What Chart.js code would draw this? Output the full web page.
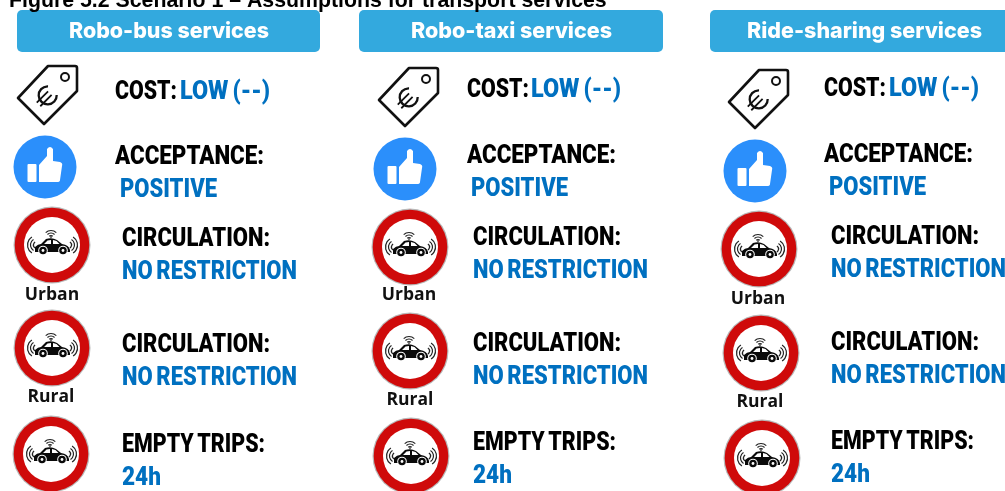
<!DOCTYPE html>
<html>
<head>
<meta charset="utf-8">
<title>Scenario 1 assumptions</title>
<script src="https://cdn.jsdelivr.net/npm/chart.js@4/dist/chart.umd.js"></script>
<style>
  html, body { margin: 0; padding: 0; background: #fff; overflow: hidden; }
  canvas { display: block; }
</style>
</head>
<body>
<canvas id="chart" width="1005" height="491"></canvas>
<script>
// ================== CONTENT ==================
const titleText = 'Figure 5.2 Scenario 1 – Assumptions for transport services';
const serviceNames = ['Robo-bus services', 'Robo-taxi services', 'Ride-sharing services'];
const signNames = ['Urban', 'Rural'];
const headLines = ['COST:', 'ACCEPTANCE:', 'CIRCULATION:', 'CIRCULATION:', 'EMPTY TRIPS:'];
const valueLines = ['LOW (--)', 'POSITIVE', 'NO RESTRICTION', 'NO RESTRICTION', '24h'];

// ================== ICON ANCHORS (one entry per column) ==================
const tagX = [47, 408, 758];
const tagY = [95, 97, 99];
const thumbX = [45, 405, 755];
const thumbY = [167, 169, 171];
const signX = [[52, 52, 51], [410, 410, 411], [759, 761, 762]];
const signY = [[245, 348, 454], [247, 351, 456], [249, 353, 458]];

// ================== TEXT ANCHORS ==================
const headerLeft = [17, 359, 710];
const headerRight = [320, 663, 1010];
const headerTop = [10, 10, 10];
const headerBottom = [52, 52, 52];
const headerTextX = [169, 511.5, 864.5];
const headerTextWidth = [200, 201, 235];
const signNameX = [[52, 51], [409, 410], [758, 760]];
const signNameY = [[300, 402], [300, 405], [304, 407]];
const costX = [115, 467, 824];
const costValueX = [180, 531, 889];
const acceptX = [115, 467, 824];
const positiveX = [120, 471, 829];
const lineX = [122, 473, 831];
const headBase = [[99, 164, 246, 352, 452], [97, 163, 245, 351, 450], [96, 162, 244, 350, 449]];
const valueBase = [[99, 197, 279, 385, 485], [97, 196, 278, 384, 483], [96, 195, 277, 383, 482]];
const headWidth = [62, 149, 148, 148, 143];
const valueWidth = [90, 97, 175, 175, 39];

const BLUE_TEXT = '#0070c0';
const HEADER_BLUE = '#33a9de';

// ================== ICON DRAWING ==================
function makeIcon(w, h, draw) {
  const c = document.createElement('canvas');
  c.width = w;
  c.height = h;
  const g = c.getContext('2d');
  g.translate(w / 2, h / 2);
  draw(g);
  return c;
}

const tagIcon = makeIcon(70, 68, g => {
  g.lineWidth = 2.6;
  g.lineJoin = 'round';
  g.strokeStyle = '#111';
  g.beginPath();
  g.moveTo(1, -29);
  g.lineTo(28, -29);
  g.quadraticCurveTo(30, -29, 30, -27);
  g.lineTo(30, -4);
  g.lineTo(-3, 29);
  g.lineTo(-29, 3);
  g.closePath();
  g.stroke();
  g.lineWidth = 2;
  g.beginPath();
  g.arc(18, -18, 4, 0, Math.PI * 2);
  g.stroke();
  // euro sign, turned with the tag
  g.save();
  g.translate(0, 1);
  g.rotate(-Math.PI / 4);
  g.lineWidth = 2.3;
  g.beginPath();
  g.arc(1, 0, 9, 0.75, Math.PI * 2 - 0.75);
  g.stroke();
  g.lineWidth = 1.8;
  g.beginPath();
  g.moveTo(-12, -2.5);
  g.lineTo(4, -2.5);
  g.moveTo(-12, 2.5);
  g.lineTo(4, 2.5);
  g.stroke();
  g.restore();
});

const thumbIcon = makeIcon(66, 66, g => {
  g.fillStyle = '#2b8ffb';
  g.beginPath();
  g.arc(0, 0, 31.5, 0, Math.PI * 2);
  g.fill();
  g.fillStyle = '#fff';
  g.beginPath();
  g.roundRect(-17.5, -3, 9, 18, 1);
  g.fill();
  g.beginPath();
  g.moveTo(-6, -2);
  g.lineTo(2, -11);
  g.lineTo(2, -18);
  g.quadraticCurveTo(5, -22, 8, -18);
  g.lineTo(8, -6);
  g.lineTo(15, -5);
  g.quadraticCurveTo(18, -4, 17, -1);
  g.lineTo(15, 13);
  g.quadraticCurveTo(15, 15, 12, 15);
  g.lineTo(-6, 15);
  g.closePath();
  g.fill();
});

const signIcon = makeIcon(80, 80, g => {
  g.fillStyle = '#b8b8b8';
  g.beginPath();
  g.arc(0, 0, 38.5, 0, Math.PI * 2);
  g.fill();
  g.fillStyle = '#cf0a0a';
  g.beginPath();
  g.arc(0, 0, 37.3, 0, Math.PI * 2);
  g.fill();
  g.fillStyle = '#fff';
  g.beginPath();
  g.arc(0, 0, 28, 0, Math.PI * 2);
  g.fill();
  // car body
  g.fillStyle = '#0a0a0a';
  g.beginPath();
  g.moveTo(-17, 7);
  g.lineTo(-17, 2);
  g.quadraticCurveTo(-14, -1, -11, -1);
  g.lineTo(-6, -6);
  g.quadraticCurveTo(0, -8, 5, -5);
  g.lineTo(10, -1);
  g.quadraticCurveTo(17, 0, 18, 5);
  g.lineTo(18, 7);
  g.closePath();
  g.fill();
  // windows
  g.fillStyle = '#fff';
  g.beginPath();
  g.moveTo(-8, -1);
  g.lineTo(-4.5, -4.5);
  g.lineTo(-1, -5);
  g.lineTo(-1, -1);
  g.closePath();
  g.moveTo(1, -5);
  g.lineTo(4.5, -4);
  g.lineTo(7.5, -1);
  g.lineTo(1, -1);
  g.closePath();
  g.fill();
  // wheels
  [-9, 11].forEach(x => {
    g.fillStyle = '#fff';
    g.beginPath();
    g.arc(x, 5.5, 4.8, 0, Math.PI * 2);
    g.fill();
    g.fillStyle = '#0a0a0a';
    g.beginPath();
    g.arc(x, 5.5, 3.8, 0, Math.PI * 2);
    g.fill();
    g.fillStyle = '#fff';
    g.beginPath();
    g.arc(x, 5.5, 1.4, 0, Math.PI * 2);
    g.fill();
  });
  // antenna and signal arcs
  g.strokeStyle = '#222';
  g.lineWidth = 1.2;
  g.beginPath();
  g.moveTo(-1, -7);
  g.lineTo(-1, -9);
  g.stroke();
  [2.5, 5, 7.5].forEach(r => {
    g.beginPath();
    g.arc(-1, -7, r, -Math.PI * 0.75, -Math.PI * 0.25);
    g.stroke();
  });
  [3.5, 6.5, 9.5].forEach(r => {
    g.beginPath();
    g.arc(-15, 0, r, Math.PI * 0.68, Math.PI * 1.32);
    g.stroke();
    g.beginPath();
    g.arc(16, 0, r, -Math.PI * 0.32, Math.PI * 0.32);
    g.stroke();
  });
});

// ================== TEXT PLUGIN ==================
const panelPlugin = {
  id: 'panelPlugin',
  beforeDatasetsDraw(chart) {
    const { ctx, scales: { x, y } } = chart;
    ctx.save();
    ctx.fillStyle = HEADER_BLUE;
    serviceNames.forEach((name, i) => {
      const left = x.getPixelForValue(headerLeft[i]);
      const top = y.getPixelForValue(headerTop[i]);
      ctx.beginPath();
      ctx.roundRect(left, top, x.getPixelForValue(headerRight[i]) - left, y.getPixelForValue(headerBottom[i]) - top, 5);
      ctx.fill();
    });
    ctx.restore();
  },
  afterDatasetsDraw(chart) {
    const { ctx, scales: { x, y } } = chart;
    const put = (text, px, py, font, color, maxWidth) => {
      ctx.font = font;
      ctx.fillStyle = color;
      ctx.fillText(text, x.getPixelForValue(px), y.getPixelForValue(py), maxWidth);
    };
    ctx.save();
    ctx.textBaseline = 'alphabetic';
    ctx.textAlign = 'left';
    put(titleText, 9, 7, 'bold 21.3px "Liberation Sans"', '#000', 599);

    serviceNames.forEach((name, i) => {
      ctx.textAlign = 'center';
      put(name, headerTextX[i], 38, '800 22px Inter', '#fff', headerTextWidth[i]);
      signNames.forEach((label, j) => {
        put(label, signNameX[i][j], signNameY[i][j], '700 17.5px "Open Sans"', '#111', 55);
      });

      ctx.textAlign = 'left';
      ctx.wordSpacing = '-2px';
      const font = '900 25px Roboto';
      const headAt = [costX[i], acceptX[i], lineX[i], lineX[i], lineX[i]];
      const valueAt = [costValueX[i], positiveX[i], lineX[i], lineX[i], lineX[i]];
      headLines.forEach((line, r) => put(line, headAt[r], headBase[i][r], font, '#000', headWidth[r]));
      valueLines.forEach((line, r) => put(line, valueAt[r], valueBase[i][r], font, BLUE_TEXT, valueWidth[r]));
      ctx.wordSpacing = '0px';
    });
    ctx.restore();
  }
};

// ================== CHART ==================
const iconSet = (xs, ys, style) => ({
  data: xs.map((v, i) => ({ x: v, y: ys[i] })),
  pointStyle: style,
  pointRadius: 20,
  clip: false
});

new Chart(document.getElementById('chart').getContext('2d'), {
  type: 'scatter',
  data: {
    datasets: [
      iconSet(tagX, tagY, tagIcon),
      iconSet(thumbX, thumbY, thumbIcon),
      iconSet(signX.flat(), signY.flat(), signIcon)
    ]
  },
  plugins: [panelPlugin],
  options: {
    responsive: false,
    animation: false,
    layout: { padding: 0, autoPadding: false },
    plugins: { legend: { display: false }, tooltip: { enabled: false } },
    scales: {
      x: { type: 'linear', display: false, min: 0, max: 1005 },
      y: { type: 'linear', display: false, min: 0, max: 491, reverse: true }
    }
  }
});
</script>
</body>
</html>
